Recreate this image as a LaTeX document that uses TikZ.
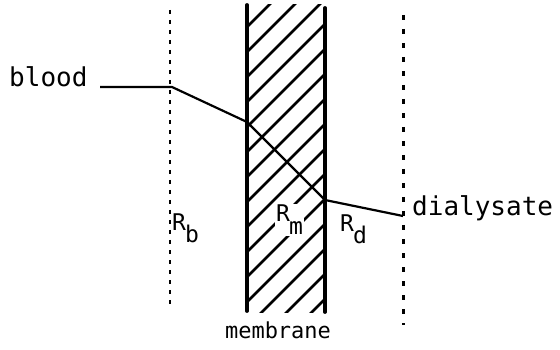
\documentclass[tikz,border=0pt]{standalone}
\usepackage{fontspec}
\newfontfamily\tw{DejaVu Sans Mono}
\newcommand{\subl}[1]{\kern-1pt\raisebox{-13pt}{#1}}
\begin{document}
\begin{tikzpicture}[x=1pt,y=-1pt,
  lbl/.style={font=\tw\fontsize{26}{26}\selectfont, inner sep=0pt},
  rlbl/.style={font=\tw\fontsize{23}{23}\selectfont, inner sep=1pt, fill=white},
  wall/.style={line width=3.8pt, line cap=round},
  bound/.style={line width=2.2pt, dash pattern=on 4pt off 6pt},
  boundr/.style={line width=3pt, dash pattern=on 5pt off 9pt},
  hatch/.style={line width=2.6pt},
  prof/.style={line width=2.2pt, line join=round}]
\useasboundingbox (0,0) rectangle (560,350);
% hatching
\begin{scope}
  \clip (247,5) rectangle (325,312);
  \foreach \k in {-3,...,15} {
    \pgfmathsetmacro{\c}{324+25*\k}
    \draw[hatch] (247,{\c-247}) -- (325,{\c-325});
  }
\end{scope}
% membrane walls
\coordinate (mlt) at (247,5);
\coordinate (mlb) at (247,311);
\coordinate (mrt) at (325,8);
\coordinate (mrb) at (325,312);
\draw[wall] (mlt) -- (mlb);
\draw[wall] (mrt) -- (mrb);
% boundary layers
\coordinate (blt) at (170,10);
\coordinate (blb) at (170,305);
\coordinate (brt) at (403,15);
\coordinate (brb) at (403,325);
\draw[bound] (blt) -- (blb);
\draw[boundr] (brt) -- (brb);
% labels
\node[lbl, anchor=base west] (blood) at (9,87) {blood};
\node[lbl, anchor=base west] (dial) at (412,215) {dialysate};
\node[lbl, font=\tw\fontsize{22}{22}\selectfont, anchor=base] (memb) at (278,338) {membrane};
\node[rlbl, anchor=base west, fill=none] (rb) at (171,230) {R\subl{b}};
\node[rlbl, anchor=base west] (rm) at (275,222) {R\subl{m}};
\node[rlbl, anchor=base west, fill=none] (rd) at (339,231) {R\subl{d}};
% concentration profile
\coordinate (a0) at (100,87);
\coordinate (a1) at (172,87);
\coordinate (a2) at (247,122);
\coordinate (a3) at (325,200);
\coordinate (a4) at (403,216);
\draw[prof] (a0) -- (a1) -- (a2) -- (a3) -- (a4);
\end{tikzpicture}
\end{document}
